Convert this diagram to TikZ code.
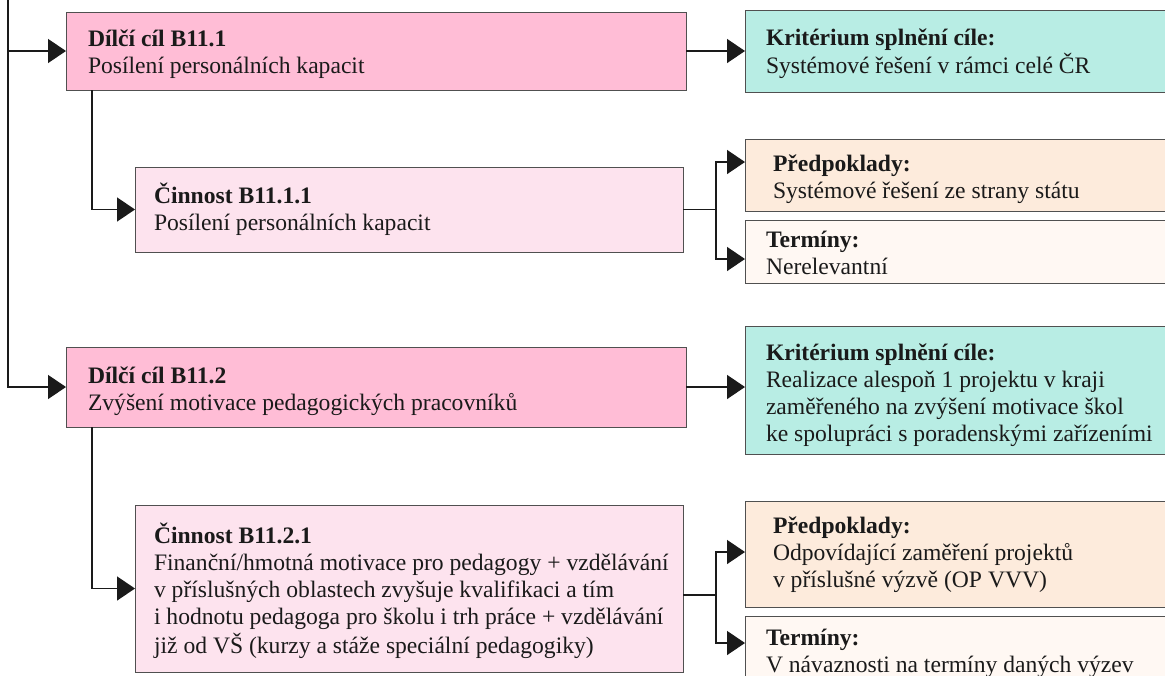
\documentclass[tikz,border=0pt]{standalone}
\usepackage{fontspec}
\setmainfont{Liberation Serif}
\usetikzlibrary{arrows.meta}
\definecolor{dil}{HTML}{FFBDD6}
\definecolor{cin}{HTML}{FDE3EE}
\definecolor{kri}{HTML}{B8EDE4}
\definecolor{pre}{HTML}{FDEBDC}
\definecolor{ter}{HTML}{FFF8F3}
\definecolor{bord}{HTML}{505050}
\definecolor{ink}{HTML}{1A1A1A}
\newcommand{\bx}[2]{\begin{tabular}[t]{@{}l@{}}\bfseries #1\\#2\end{tabular}}
\tikzset{
  box/.style={draw=bord, line width=0.9pt, inner sep=0pt, outer sep=0pt, anchor=north west},
  txt/.style={anchor=base west, inner sep=0pt, outer sep=0pt, text=ink, font=\fontsize{23.6}{27.3}\selectfont},
  conn/.style={draw=ink, line width=1.5pt},
  arr/.style={conn, -{Triangle[length=18pt,width=24pt]}}
}
\begin{document}
\begin{tikzpicture}[x=1pt,y=-1pt]
\useasboundingbox (0,0) rectangle (1165,675);
\clip (0,0) rectangle (1165,675);
% boxes
\node[box, fill=dil, minimum width=620pt, minimum height=78pt] (b1) at (66,12) {};
\node[box, fill=kri, minimum width=435pt, minimum height=82pt] (k1) at (745,10) {};
\node[box, fill=cin, minimum width=548pt, minimum height=85pt] (c1) at (135,167) {};
\node[box, fill=pre, minimum width=435pt, minimum height=72pt] (p1) at (745,139) {};
\node[box, fill=ter, minimum width=435pt, minimum height=63pt] (t1) at (745,220) {};
\node[box, fill=dil, minimum width=620pt, minimum height=80pt] (b2) at (66,347) {};
\node[box, fill=kri, minimum width=435pt, minimum height=128pt] (k2) at (745,326) {};
\node[box, fill=cin, minimum width=548pt, minimum height=167pt] (c2) at (135,505) {};
\node[box, fill=pre, minimum width=435pt, minimum height=106pt] (p2) at (745,501) {};
\node[box, fill=ter, minimum width=435pt, minimum height=84pt] (t2) at (745,616) {};
% texts
\node[txt] (b1t) at (88,46) {\bx{Dílčí cíl B11.1}{Posílení personálních kapacit}};
\node[txt] (k1t) at (766,45) {\bx{Kritérium splnění cíle:}{Systémové řešení v rámci celé ČR}};
\node[txt] (c1t) at (154,203) {\bx{Činnost B11.1.1}{Posílení personálních kapacit}};
\node[txt] (p1t) at (773,171) {\bx{Předpoklady:}{Systémové řešení ze strany státu}};
\node[txt] (t1t) at (766,247) {\bx{Termíny:}{Nerelevantní}};
\node[txt] (b2t) at (88,383) {\bx{Dílčí cíl B11.2}{Zvýšení motivace pedagogických pracovníků}};
\node[txt] (k2t) at (766,360) {\begin{tabular}[t]{@{}l@{}}\bfseries Kritérium splnění cíle:\\Realizace alespoň 1 projektu v kraji\\zaměřeného na zvýšení motivace škol\\ke spolupráci s poradenskými zařízeními\end{tabular}};
\node[txt] (c2t) at (154,543) {\begin{tabular}[t]{@{}l@{}}\bfseries Činnost B11.2.1\\Finanční/hmotná motivace pro pedagogy + vzdělávání\\v příslušných oblastech zvyšuje kvalifikaci a tím\\i hodnotu pedagoga pro školu i trh práce + vzdělávání\\již od VŠ (kurzy a stáže speciální pedagogiky)\end{tabular}};
\node[txt] (p2t) at (773,533) {\begin{tabular}[t]{@{}l@{}}\bfseries Předpoklady:\\Odpovídající zaměření projektů\\v příslušné výzvě (OP VVV)\end{tabular}};
\node[txt] (t2t) at (766,645) {\bx{Termíny:}{V návaznosti na termíny daných výzev}};
% connectors
\coordinate (top) at (8,-5);
\draw[arr] (top) |- (b1.west);
\draw[arr] (top) |- (b2.west);
\draw[arr] ([xshift=26pt]b1.south west) |- (c1.west);
\draw[arr] (b1.east) -- (b1.east -| k1.west);
\draw[conn] (c1.east) -- ++(33,0) coordinate (j1);
\draw[arr] (j1) |- ([yshift=-23pt]p1.north west);
\draw[arr] (j1) |- ([yshift=-39pt]t1.north west);
\draw[arr] ([xshift=26pt]b2.south west) |- (c2.west);
\draw[arr] (b2.east) -- (b2.east -| k2.west);
\draw[conn] ([yshift=-6.5pt]c2.east) -- ++(33,0) coordinate (j2);
\draw[arr] (j2) |- ([yshift=-51pt]p2.north west);
\draw[arr] (j2) |- ([yshift=-27pt]t2.north west);
\end{tikzpicture}
\end{document}
